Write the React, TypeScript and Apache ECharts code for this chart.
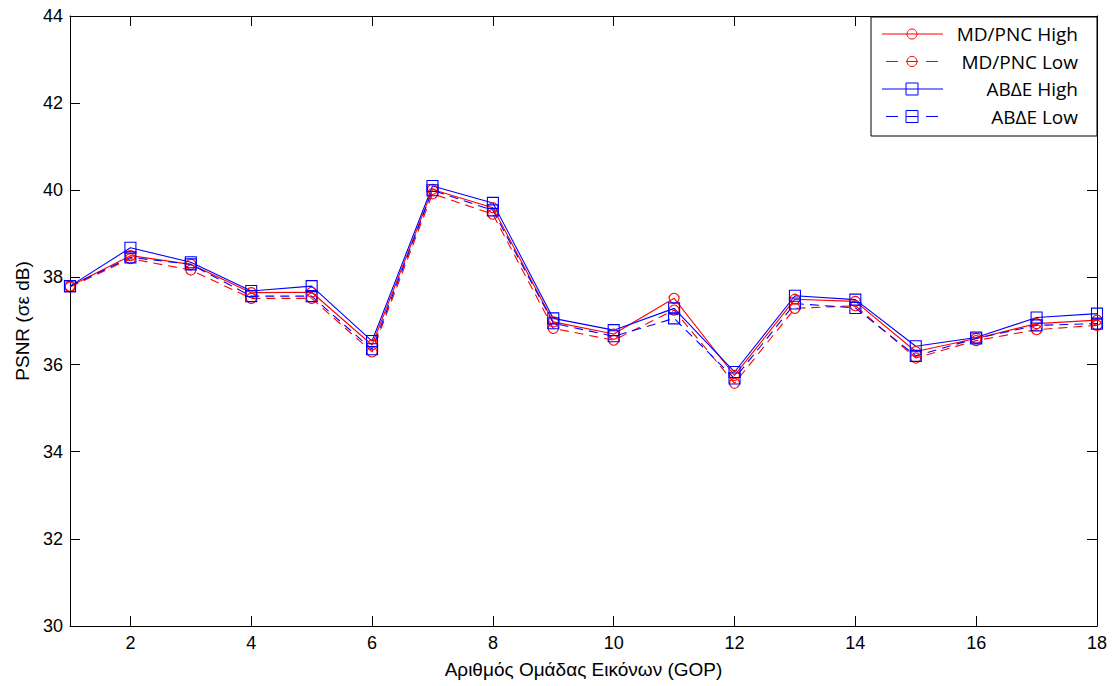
import React, { useEffect, useRef } from "react";
import * as echarts from "echarts";

const gops = [1, 2, 3, 4, 5, 6, 7, 8, 9, 10, 11, 12, 13, 14, 15, 16, 17, 18];
const mdHigh = [37.8, 38.5, 38.3, 37.65, 37.66, 36.45, 40.02, 39.6, 36.98, 36.7, 37.52, 35.75, 37.5, 37.45, 36.3, 36.6, 36.94, 37.02];
const mdLow = [37.78, 38.43, 38.17, 37.52, 37.52, 36.29, 39.92, 39.45, 36.83, 36.56, 37.25, 35.57, 37.29, 37.35, 36.15, 36.55, 36.8, 36.9];
const abHigh = [37.8, 38.68, 38.35, 37.69, 37.8, 36.54, 40.1, 39.71, 37.06, 36.79, 37.29, 35.83, 37.58, 37.49, 36.42, 36.62, 37.08, 37.17];
const abLow = [37.8, 38.46, 38.3, 37.57, 37.57, 36.35, 40.0, 39.54, 36.95, 36.65, 37.06, 35.68, 37.4, 37.3, 36.2, 36.6, 36.9, 36.94];
const xTicks = [2, 4, 6, 8, 10, 12, 14, 16, 18];
const seriesNames = ["MD/PNC High", "MD/PNC Low", "ABΔE High", "ABΔE Low"];
const xTitle = "Αριθμός Ομάδας Εικόνων (GOP)";
const yTitle = "PSNR (σε dB)";

const RED = "#ff0000";
const BLUE = "#0000ff";
const TICK_FONT = "Liberation Sans";

export default function App() {
  const ref = useRef<HTMLDivElement>(null);
  useEffect(() => {
    if (!ref.current) return;
    const chart = echarts.init(ref.current, null, { renderer: "svg" });
    const mk = (vals: number[]) => gops.map((g, i) => [g, vals[i]]);
    const mkSeries = (name: string, vals: number[], color: string, dashed: boolean, symbol: string, size: number) => ({
      name,
      type: "line",
      data: mk(vals),
      symbol,
      symbolSize: size,
      showSymbol: true,
      lineStyle: { color, width: 1.1, type: dashed ? [9, 6] : "solid" },
      itemStyle: { color: "rgba(0,0,0,0)", borderColor: color, borderWidth: 1.1 },
      emphasis: { disabled: true },
      xAxisIndex: 0,
      yAxisIndex: 0,
    });
    const axisLine = { show: true, onZero: false, lineStyle: { color: "#000", width: 1 } };
    const tickX = { show: true, inside: true, length: 10, customValues: xTicks, lineStyle: { color: "#000" } };
    const tickY = { show: true, inside: true, length: 10, lineStyle: { color: "#000" } };
    const legendRows = [34, 61.5, 89, 116.5];
    const legendSpec = [
      { color: RED, dashed: false, marker: "circle" },
      { color: RED, dashed: true, marker: "circle" },
      { color: BLUE, dashed: false, marker: "rect" },
      { color: BLUE, dashed: true, marker: "rect" },
    ];
    const legendEls: any[] = [
      {
        type: "rect",
        shape: { x: 871, y: 17, width: 226, height: 119 },
        style: { fill: "#fff", stroke: "#000", lineWidth: 1 },
        z: 100,
      },
    ];
    legendSpec.forEach((s, i) => {
      const cy = legendRows[i];
      legendEls.push({
        type: "line",
        shape: { x1: s.dashed ? 886 : 882, y1: cy, x2: 943, y2: cy },
        style: { stroke: s.color, lineWidth: 1, lineDash: s.dashed ? [12, 8] : null },
        z: 101,
      });
      if (s.marker === "circle") {
        legendEls.push({
          type: "circle",
          shape: { cx: 912, cy, r: 5 },
          style: { fill: "none", stroke: s.color, lineWidth: 1 },
          z: 102,
        });
      } else {
        legendEls.push({
          type: "rect",
          shape: { x: 906, y: cy - 6, width: 12, height: 12 },
          style: { fill: "none", stroke: s.color, lineWidth: 1 },
          z: 102,
        });
      }
      legendEls.push({
        type: "text",
        x: 1078,
        y: cy,
        style: {
          text: seriesNames[i],
          fill: "#000",
          font: '19px "Open Sans"',
          align: "right",
          verticalAlign: "middle",
        },
        z: 102,
      });
    });

    chart.setOption({
      animation: false,
      backgroundColor: "#fff",
      grid: { left: 70, right: 18, top: 16, bottom: 60, containLabel: false },
      xAxis: [
        {
          type: "value",
          min: 1,
          max: 18,
          position: "bottom",
          axisLine,
          axisTick: tickX,
          axisLabel: {
            customValues: xTicks,
            color: "#000",
            fontFamily: TICK_FONT,
            fontSize: 18,
            margin: 8,
          },
          splitLine: { show: false },
          name: xTitle,
          nameLocation: "middle",
          nameGap: 34,
          nameTextStyle: { color: "#000", fontFamily: TICK_FONT, fontSize: 19 },
        },
        {
          type: "value",
          min: 1,
          max: 18,
          position: "top",
          axisLine,
          axisTick: tickX,
          axisLabel: { show: false },
          splitLine: { show: false },
        },
      ],
      yAxis: [
        {
          type: "value",
          min: 30,
          max: 44,
          interval: 2,
          position: "left",
          axisLine,
          axisTick: tickY,
          axisLabel: { color: "#000", fontFamily: TICK_FONT, fontSize: 18, margin: 7 },
          splitLine: { show: false },
          name: yTitle,
          nameLocation: "middle",
          nameGap: 37,
          nameTextStyle: { color: "#000", fontFamily: TICK_FONT, fontSize: 19 },
        },
        {
          type: "value",
          min: 30,
          max: 44,
          interval: 2,
          position: "right",
          axisLine,
          axisTick: tickY,
          axisLabel: { show: false },
          splitLine: { show: false },
        },
      ],
      series: [
        mkSeries(seriesNames[0], mdHigh, RED, false, "circle", 10),
        mkSeries(seriesNames[1], mdLow, RED, true, "circle", 10),
        mkSeries(seriesNames[2], abHigh, BLUE, false, "rect", 11),
        mkSeries(seriesNames[3], abLow, BLUE, true, "rect", 11),
      ],
      graphic: legendEls,
    });
    return () => chart.dispose();
  }, []);
  return (
    <div
      ref={ref}
      style={{ position: "fixed", left: 0, top: 0, width: 1115, height: 686, background: "#fff" }}
    />
  );
}
